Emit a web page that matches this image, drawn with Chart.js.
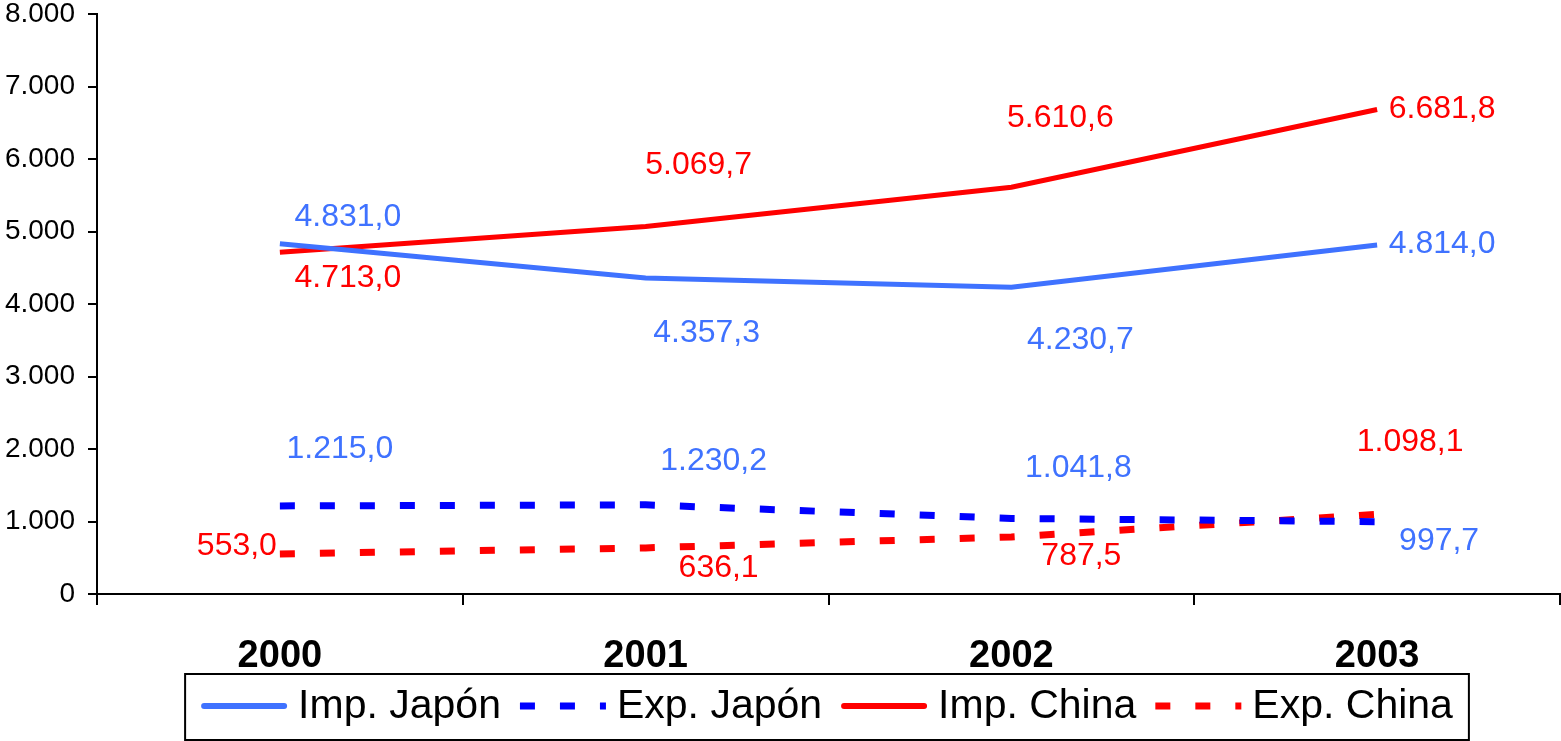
<!DOCTYPE html>
<html>
<head>
<meta charset="utf-8">
<script src="https://cdn.jsdelivr.net/npm/chart.js@4/dist/chart.umd.min.js"></script>
<style>
  html, body { margin: 0; padding: 0; background: #fff; }
  canvas { display: block; }
</style>
</head>
<body>
<canvas id="chart" width="1561" height="741"></canvas>
<script>
// Werte
const years = ["2000", "2001", "2002", "2003"];
const impJapon = [4831.0, 4357.3, 4230.7, 4814.0];
const expJapon = [1215.0, 1230.2, 1041.8, 997.7];
const impChina = [4713.0, 5069.7, 5610.6, 6681.8];
const expChina = [553.0, 636.1, 787.5, 1098.1];
const yTicks = [0, 1000, 2000, 3000, 4000, 5000, 6000, 7000, 8000];

const FONT = "Arial, 'Liberation Sans', sans-serif";
const BLUE_LIGHT = "#3F72FF";
const BLUE = "#0000FF";
const RED = "#FF0000";

// Tausenderpunkt, Dezimalkomma
function fmtThousands(v) {
    return String(Math.round(v)).replace(/\B(?=(\d{3})+(?!\d))/g, ".");
}
function fmtValue(v) {
    const parts = v.toFixed(1).split(".");
    return fmtThousands(Number(parts[0])) + "," + parts[1];
}

// Label-Versatz je Punkt (Pixel), nur Optik
const labelOffsets = [
    [[68, -27], [61, 55], [69, 53], [65, -1]],   // Imp. Japón
    [[60, -57], [68, -44], [67, -50], [62, 20]], // Exp. Japón
    [[68, 26], [53, -61], [49, -69], [65, 0]],   // Imp. China
    [[-43, -8], [73, 20], [70, 19], [33, -72]]   // Exp. China
];
const labelColors = [BLUE_LIGHT, BLUE_LIGHT, RED, RED];

const dataLabels = {
    id: "dataLabels",
    afterDatasetsDraw(chart) {
        const ctx = chart.ctx;
        ctx.save();
        ctx.font = "32px " + FONT;
        ctx.textAlign = "center";
        ctx.textBaseline = "middle";
        chart.data.datasets.forEach((ds, di) => {
            const meta = chart.getDatasetMeta(di);
            meta.data.forEach((pt, i) => {
                const off = labelOffsets[di][i];
                ctx.fillStyle = labelColors[di];
                ctx.fillText(fmtValue(ds.data[i]), pt.x + off[0], pt.y + off[1]);
            });
        });
        ctx.restore();
    }
};

// Legende mit Rahmen unten
const boxedLegend = {
    id: "boxedLegend",
    afterDraw(chart) {
        const ctx = chart.ctx;
        const ca = chart.chartArea;
        const sample = 86, gapSample = 11, gapItem = 19, pad = 16;
        ctx.save();
        ctx.font = "41px " + FONT;
        const items = chart.data.datasets.map(ds => ({
            ds, w: ctx.measureText(ds.label).width
        }));
        let total = pad * 2 - gapItem;
        items.forEach(it => { total += sample + gapSample + it.w + gapItem; });
        const boxTop = 674, boxH = 66;
        const left = (ca.left + ca.right) / 2 - 1.5 - total / 2;
        ctx.lineWidth = 2;
        ctx.strokeStyle = "#000";
        ctx.strokeRect(left, boxTop, total, boxH);
        const cy = boxTop + boxH / 2 - 1;
        let x = left + pad;
        items.forEach(it => {
            ctx.save();
            ctx.strokeStyle = it.ds.borderColor;
            ctx.lineWidth = it.ds.borderDash.length ? 7 : 6;
            ctx.lineCap = it.ds.borderDash.length ? "butt" : "round";
            ctx.setLineDash(it.ds.borderDash);
            ctx.beginPath();
            ctx.moveTo(x + (it.ds.borderDash.length ? 0 : 3), cy);
            ctx.lineTo(x + sample - (it.ds.borderDash.length ? 0 : 3), cy);
            ctx.stroke();
            ctx.restore();
            x += sample + gapSample;
            ctx.fillStyle = "#000";
            ctx.textAlign = "left";
            ctx.textBaseline = "middle";
            ctx.fillText(it.ds.label, x, cy + 1);
            x += it.w + gapItem;
        });
        ctx.restore();
    }
};

new Chart(document.getElementById("chart"), {
    type: "line",
    plugins: [dataLabels, boxedLegend],
    data: {
        labels: years,
        datasets: [
            {
                label: "Imp. Japón",
                data: impJapon,
                borderColor: BLUE_LIGHT,
                borderWidth: 5,
                borderDash: [],
                pointRadius: 0,
                tension: 0
            },
            {
                label: "Exp. Japón",
                data: expJapon,
                borderColor: BLUE,
                borderWidth: 7,
                borderDash: [15, 25],
                borderCapStyle: "butt",
                pointRadius: 0,
                tension: 0
            },
            {
                label: "Imp. China",
                data: impChina,
                borderColor: RED,
                borderWidth: 5,
                borderDash: [],
                pointRadius: 0,
                tension: 0
            },
            {
                label: "Exp. China",
                data: expChina,
                borderColor: RED,
                borderWidth: 7,
                borderDash: [15, 25],
                borderCapStyle: "butt",
                pointRadius: 0,
                tension: 0
            }
        ]
    },
    options: {
        responsive: false,
        devicePixelRatio: 1,
        animation: false,
        layout: { padding: { top: 14, right: 1, bottom: 69, left: 0 } },
        plugins: {
            legend: { display: false },
            tooltip: { enabled: false }
        },
        scales: {
            x: {
                offset: true,
                grid: {
                    offset: true,
                    drawOnChartArea: false,
                    color: "#000",
                    lineWidth: 2,
                    tickLength: 11
                },
                border: { color: "#000", width: 2 },
                ticks: {
                    color: "#000",
                    padding: 29,
                    font: { family: FONT, size: 38, weight: "bold" }
                },
                afterFit(scale) {
                    scale.height = 78;
                    scale.paddingLeft = 0;
                    scale.paddingRight = 0;
                }
            },
            y: {
                min: 0,
                max: 8000,
                afterBuildTicks(scale) {
                    scale.ticks = yTicks.map(v => ({ value: v }));
                },
                grid: {
                    drawOnChartArea: false,
                    color: "#000",
                    lineWidth: 2,
                    tickLength: 9
                },
                border: { color: "#000", width: 2 },
                ticks: {
                    color: "#000",
                    padding: 13,
                    font: { family: FONT, size: 28 },
                    callback: v => fmtThousands(v)
                },
                afterFit(scale) {
                    scale.width = 97;
                    scale.paddingTop = 0;
                    scale.paddingBottom = 0;
                }
            }
        }
    }
});
</script>
</body>
</html>
